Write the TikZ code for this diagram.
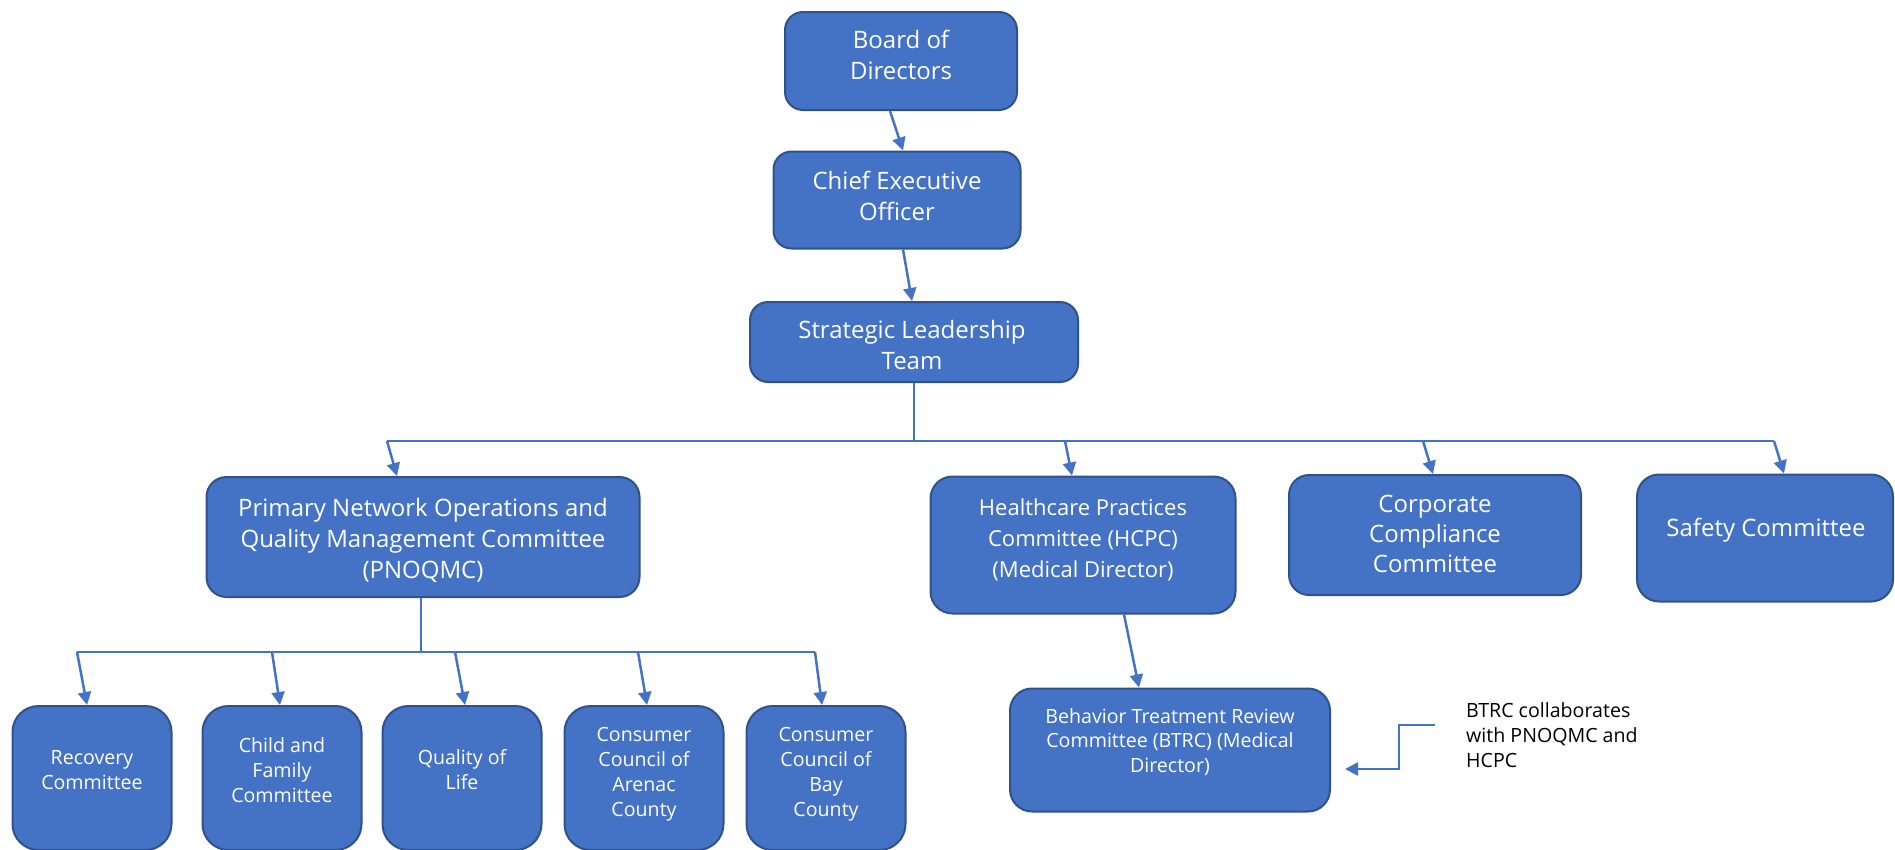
\documentclass[tikz,border=0pt]{standalone}
\usepackage{fontspec}
\setmainfont{Open Sans}
\usetikzlibrary{arrows.meta,positioning}

\definecolor{boxblue}{HTML}{4472C4}
\definecolor{boxedge}{HTML}{2F528F}
\definecolor{linkblue}{HTML}{4472C4}

\tikzset{
  box/.style={draw=boxedge, fill=boxblue, line width=2pt, rounded corners=18pt, inner sep=0pt},
  bigtext/.style={text=white, align=center, inner sep=0pt, font=\fontsize{24}{31}\selectfont},
  lowtext/.style={text=white, align=center, inner sep=0pt, font=\fontsize{19.6}{25}\selectfont},
  notetext/.style={text=black, align=left, inner sep=0pt, font=\fontsize{19.6}{25}\selectfont},
  arr/.style={draw=linkblue, line width=2.5pt, -{Triangle[length=13pt,width=13pt]}},
  bus/.style={draw=linkblue, line width=1.5pt},
}

\begin{document}
\begin{tikzpicture}[x=1pt,y=-1pt]
  \useasboundingbox (0,0) rectangle (1895,849);
  \clip (0,0) rectangle (1895,849);

  % top of the chart
  \node[box, minimum width=232pt, minimum height=98pt] (board) at (901,61) {};
  \node[bigtext] (board-txt) at (901,55) {Board of\\Directors};
  \node[box, minimum width=247pt, minimum height=97pt] (ceo) at (897,200) {};
  \node[bigtext] (ceo-txt) at (897,196) {Chief Executive\\Officer};
  \node[box, minimum width=328pt, minimum height=80pt] (slt) at (914,342) {};
  \node[bigtext] (slt-txt) at (912,345) {Strategic Leadership\\Team};

  \draw[arr] ([xshift=-11pt]board.south) -- ([xshift=6pt]ceo.north);
  \draw[arr] ([xshift=6pt]ceo.south) -- ([xshift=-2pt]slt.north);

  % committees under the leadership team
  \node[box, minimum width=433pt, minimum height=120pt, rounded corners=20pt] (pnoqmc) at (423,537) {};
  \node[bigtext] (pnoqmc-txt) at (423,540) {Primary Network Operations and\\Quality Management Committee\\(PNOQMC)};
  \node[box, minimum width=305pt, minimum height=137pt, rounded corners=22pt] (hcpc) at (1083,545) {};
  \node[bigtext, font=\fontsize{22}{31}\selectfont] (hcpc-txt) at (1083,540) {Healthcare Practices\\Committee (HCPC)\\(Medical Director)};
  \node[box, minimum width=292pt, minimum height=120pt, rounded corners=20pt] (corp) at (1435,535) {};
  \node[bigtext, font=\fontsize{24}{30}\selectfont] (corp-txt) at (1435,534) {Corporate\\Compliance\\Committee};
  \node[box, minimum width=256pt, minimum height=127pt, rounded corners=22pt] (safety) at (1765,538) {};
  \node[bigtext] (safety-txt) at (1766,530) {Safety Committee};

  \coordinate (top-bus) at (914,441);
  \coordinate (pnoqmc-in) at (387,441);
  \coordinate (hcpc-in) at (1065,441);
  \coordinate (corp-in) at (1423,441);
  \coordinate (safety-in) at (1774,441);

  \draw[bus] (slt.south) -- (top-bus);
  \draw[bus] (pnoqmc-in) -- (safety-in);
  \draw[arr] (pnoqmc-in) -- ([xshift=-26pt]pnoqmc.north);
  \draw[arr] (hcpc-in) -- ([xshift=-11pt]hcpc.north);
  \draw[arr] (corp-in) -- ([xshift=-2pt]corp.north);
  \draw[arr] (safety-in) -- ([xshift=19pt]safety.north);

  % BTRC and its note
  \node[box, minimum width=320pt, minimum height=123pt, rounded corners=22pt] (btrc) at (1170,750) {};
  \node[lowtext, font=\fontsize{19.6}{24.5}\selectfont] (btrc-txt) at (1170,742) {Behavior Treatment Review\\Committee (BTRC) (Medical\\Director)};
  \draw[arr] ([xshift=41pt]hcpc.south) -- ([xshift=-31pt]btrc.north);

  \node[notetext, anchor=west] (note) at (1466,735) {BTRC collaborates\\with PNOQMC and\\HCPC};
  \coordinate (note-out) at (1435,725);
  \coordinate (btrc-in) at (1345,769);
  \draw[arr] (note-out) -- (1399,725) |- (btrc-in);

  % committees under PNOQMC
  \foreach \n/\x/\y/\s/\e/\t in {recovery/92/770/77/-5/{Recovery\\Committee},
      child/282/770/272/-2/{Child and\\Family\\Committee},
      quality/462/770/455/3/{Quality of\\Life},
      arenac/644/774/638/3/{Consumer\\Council of\\Arenac\\County},
      bay/826/774/815/-4/{Consumer\\Council of\\Bay\\County}} {
    \node[box, minimum width=159pt, minimum height=144pt, rounded corners=26pt] (\n) at (\x,778) {};
    \node[lowtext] (\n-txt) at (\x,\y) {\t};
    \coordinate (\n-in) at (\s,652);
    \draw[arr] (\n-in) -- ([xshift=\e pt]\n.north);
  }
  \draw[bus] (recovery-in) -- (bay-in);
  \draw[bus] ([xshift=-2pt]pnoqmc.south) -- ([xshift=-2pt]pnoqmc.south |- recovery-in);
\end{tikzpicture}
\end{document}
